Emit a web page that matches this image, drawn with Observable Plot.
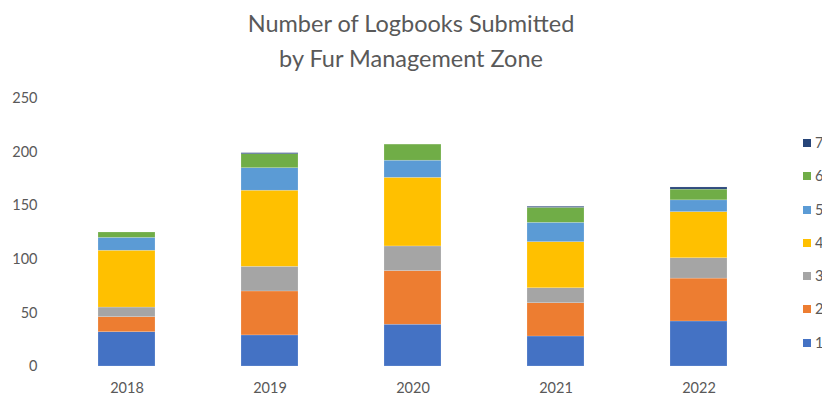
<!DOCTYPE html>
<html>
<head>
<meta charset="utf-8">
<script src="https://cdn.jsdelivr.net/npm/d3@7"></script>
<script src="https://cdn.jsdelivr.net/npm/@observablehq/plot@0.6"></script>
<style>
  html, body { margin: 0; padding: 0; background: #fff; overflow: hidden; }
  #wrap { position: relative; width: 822px; height: 402px; font-family: Lato, "Open Sans", sans-serif; }
  #title { position: absolute; left: 0; top: 6px; width: 822px; text-align: center; font-size: 23.5px; line-height: 35px; color: #595959; }
  #legend { position: absolute; left: 800px; top: 134px; font-size: 14.5px; color: #595959; white-space: nowrap; }
  .item { height: 33.3px; display: flex; align-items: flex-start; }
  .sw { width: 8px; height: 8px; margin-top: 5px; margin-right: 4px; margin-left: 3px; }
</style>
</head>
<body>
<div id="wrap">
  <div id="chart"></div>
  <div id="title">Number of Logbooks Submitted<br>by Fur Management Zone</div>
  <div id="legend"></div>
</div>
<script>
const years = ["2018", "2019", "2020", "2021", "2022"];
const zones = ["1", "2", "3", "4", "5", "6", "7"];
const zone1 = [32, 29, 39, 28, 42];
const zone2 = [14, 41, 50, 31, 40];
const zone3 = [9, 23, 23, 14, 19];
const zone4 = [53, 71, 64, 43, 43];
const zone5 = [12, 21, 16, 18, 11];
const zone6 = [5, 13, 15, 14, 10];
const zone7 = [0, 1, 0, 1, 2];
const yTicks = [0, 50, 100, 150, 200, 250];
const colors = ["#4472C4", "#ED7D31", "#A5A5A5", "#FFC000", "#5B9BD5", "#70AD47", "#264478"];

const series = [zone1, zone2, zone3, zone4, zone5, zone6, zone7];
const data = [];
zones.forEach((z, i) => years.forEach((y, j) => data.push({year: y, zone: z, value: series[i][j]})));

const chart = Plot.plot({
  width: 822,
  height: 402,
  marginLeft: 54,
  marginRight: 50,
  marginTop: 98,
  marginBottom: 36,
  style: {fontFamily: "Lato, 'Open Sans', sans-serif", fontSize: "14.5px", color: "#595959", background: "#fff"},
  x: {domain: years, paddingInner: 0.6, paddingOuter: 0.3, label: null},
  y: {domain: [0, 250], ticks: yTicks, label: null},
  color: {domain: zones, range: colors},
  marks: [
    Plot.gridY(yTicks, {stroke: "#d9d9d9", strokeOpacity: 1, x1: 54, x2: 776}),
    Plot.barY(data, {x: "year", y: "value", fill: "zone", order: zones, stroke: "#ffffff", strokeOpacity: 0.35, strokeWidth: 0.5}),
    Plot.axisX({tickSize: 0, tickPadding: 16, fontSize: 14.5}),
    Plot.axisY(yTicks, {tickSize: 0, tickPadding: 17, fontSize: 14.5})
  ]
});
document.getElementById("chart").appendChild(chart);

const legend = document.getElementById("legend");
[...zones].reverse().forEach(z => {
  const i = zones.indexOf(z);
  const div = document.createElement("div");
  div.className = "item";
  div.innerHTML = `<span class="sw" style="background:${colors[i]}"></span><span>${z}</span>`;
  legend.appendChild(div);
});
</script>
</body>
</html>
